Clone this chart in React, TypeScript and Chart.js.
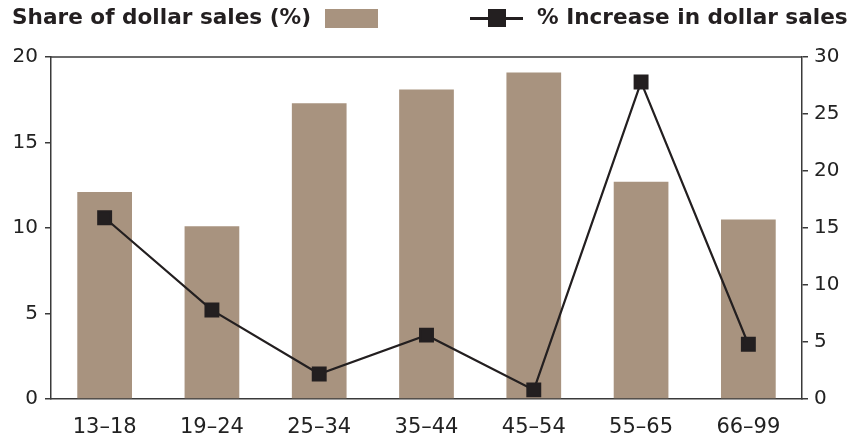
import React, { useEffect, useRef } from "react";
import { Chart, registerables } from "chart.js";

Chart.register(...registerables);

const categories = ["13–18", "19–24", "25–34", "35–44", "45–54", "55–65", "66–99"];
const shareOfSales = [12.1, 10.1, 17.3, 18.1, 19.1, 12.7, 10.5];
const pctIncrease = [15.9, 7.8, 2.2, 5.6, 0.8, 27.8, 4.8];
const leftTicks = [0, 5, 10, 15, 20];
const rightTicks = [0, 5, 10, 15, 20, 25, 30];

const BAR_COLOR = "#a8937f";
const LINE_COLOR = "#231f20";
const AXIS_COLOR = "#3a3a3a";
const FONT = "'DejaVu Sans', Verdana, sans-serif";

const topBorder = {
  id: "topBorder",
  afterDraw(chart: any) {
    const { ctx, chartArea } = chart;
    ctx.save();
    ctx.strokeStyle = AXIS_COLOR;
    ctx.lineWidth = 1.5;
    ctx.beginPath();
    ctx.moveTo(chartArea.left, chartArea.top);
    ctx.lineTo(chartArea.right, chartArea.top);
    ctx.stroke();
    ctx.restore();
  },
};

export default function App() {
  const ref = useRef<HTMLCanvasElement | null>(null);
  useEffect(() => {
    if (!ref.current) return;
    const chart = new Chart(ref.current, {
      type: "bar",
      data: {
        labels: categories,
        datasets: [
          {
            type: "line",
            label: "% Increase in dollar sales",
            data: pctIncrease,
            yAxisID: "y1",
            borderColor: LINE_COLOR,
            backgroundColor: LINE_COLOR,
            borderWidth: 2.2,
            pointStyle: "rect",
            pointRadius: 9,
            pointHoverRadius: 9,
            tension: 0,
            order: 0,
          } as any,
          {
            type: "bar",
            label: "Share of dollar sales (%)",
            data: shareOfSales,
            yAxisID: "y",
            backgroundColor: BAR_COLOR,
            categoryPercentage: 1,
            barPercentage: 0.51,
            order: 1,
          },
        ],
      },
      options: {
        animation: false,
        responsive: false,
        layout: { padding: { top: 57, left: 0, right: 0, bottom: 0 } },
        plugins: { legend: { display: false }, tooltip: { enabled: false } },
        scales: {
          x: {
            afterFit: (axis: any) => {
              axis.height = 38;
            },
            grid: { display: false },
            border: { display: true, color: AXIS_COLOR, width: 1.5 },
            ticks: { color: "#222", font: { family: FONT, size: 21 }, padding: 8, maxRotation: 0 },
          },
          y: {
            position: "left",
            min: 0,
            max: 20,
            afterFit: (axis: any) => {
              axis.width = 51;
            },
            afterBuildTicks: (axis: any) => {
              axis.ticks = leftTicks.map((v) => ({ value: v }));
            },
            grid: { display: true, drawOnChartArea: false, drawTicks: true, tickLength: 6, color: AXIS_COLOR, lineWidth: 1.5 },
            border: { display: true, color: AXIS_COLOR, width: 1.5 },
            ticks: { color: "#222", font: { family: FONT, size: 20 }, padding: 7 },
          },
          y1: {
            position: "right",
            min: 0,
            max: 30,
            afterFit: (axis: any) => {
              axis.width = 62;
            },
            afterBuildTicks: (axis: any) => {
              axis.ticks = rightTicks.map((v) => ({ value: v }));
            },
            grid: { display: true, drawOnChartArea: false, drawTicks: true, tickLength: 6, color: AXIS_COLOR, lineWidth: 1.5 },
            border: { display: true, color: AXIS_COLOR, width: 1.5 },
            ticks: { color: "#222", font: { family: FONT, size: 20 }, padding: 6 },
          },
        },
      },
      plugins: [topBorder],
    });
    return () => chart.destroy();
  }, []);

  const legendFont: React.CSSProperties = {
    position: "absolute",
    fontFamily: "'DejaVu Sans', Verdana, sans-serif",
    fontWeight: "bold",
    fontSize: 21.6,
    color: "#231f20",
    whiteSpace: "nowrap",
    lineHeight: "26px",
  };

  return (
    <div style={{ position: "absolute", left: 0, top: 0, width: 864, height: 437, background: "#fff" }}>
      <canvas ref={ref} width={864} height={437} style={{ position: "absolute", left: 0, top: 0 }} />
      <div style={{ ...legendFont, left: 12, top: 4 }}>Share of dollar sales (%)</div>
      <div style={{ position: "absolute", left: 325, top: 9, width: 53, height: 19, background: BAR_COLOR }} />
      <div style={{ position: "absolute", left: 470, top: 17, width: 53, height: 2.5, background: LINE_COLOR }} />
      <div style={{ position: "absolute", left: 488, top: 9, width: 18, height: 18, background: LINE_COLOR }} />
      <div style={{ ...legendFont, left: 537, top: 4 }}>% Increase in dollar sales</div>
    </div>
  );
}
